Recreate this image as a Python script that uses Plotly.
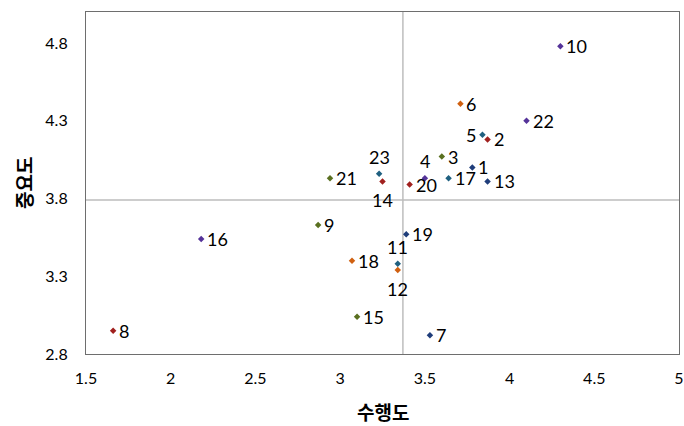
import plotly.graph_objects as go

labels = [str(i) for i in range(1, 24)]
performance = [3.78, 3.87, 3.60, 3.50, 3.84, 3.71, 3.53, 1.66, 2.87, 4.30, 3.34, 3.34,
               3.87, 3.25, 3.10, 2.18, 3.64, 3.07, 3.39, 3.41, 2.94, 4.10, 3.23]
importance = [4.00, 4.18, 4.07, 3.93, 4.21, 4.41, 2.92, 2.95, 3.63, 4.78, 3.38, 3.34,
              3.91, 3.91, 3.04, 3.54, 3.93, 3.40, 3.57, 3.89, 3.93, 4.30, 3.96]
x_ticks = [1.5, 2, 2.5, 3, 3.5, 4, 4.5, 5]
y_ticks = [2.8, 3.3, 3.8, 4.3, 4.8]

palette = ["#1F3D7A", "#A0201E", "#5A7020", "#553399", "#1F6080", "#D06010"]
colors = [palette[i % 6] for i in range(len(labels))]

label_place = {"4": "top", "23": "top", "11": "top",
               "14": "bottom", "12": "bottom", "5": "left"}

mean_x = sum(performance) / len(performance)
mean_y = sum(importance) / len(importance)

FONT = "Lato, Liberation Sans, sans-serif"

fig = go.Figure()
fig.add_trace(go.Scatter(
    x=performance, y=importance, mode="markers",
    marker=dict(symbol="diamond", size=5, color=colors),
    showlegend=False, cliponaxis=False,
))

for lab, xv, yv in zip(labels, performance, importance):
    place = label_place.get(lab, "right")
    kw = dict(x=xv, y=yv, text=lab, showarrow=False,
              font=dict(family=FONT, size=18, color="#000000"))
    if place == "right":
        kw.update(xanchor="left", yanchor="middle", xshift=4, yshift=0)
    elif place == "left":
        kw.update(xanchor="right", yanchor="middle", xshift=-4, yshift=0)
    elif place == "top":
        kw.update(xanchor="center", yanchor="middle", xshift=0, yshift=17)
    else:
        kw.update(xanchor="center", yanchor="middle", xshift=0, yshift=-19)
    fig.add_annotation(**kw)

fig.add_shape(type="line", x0=mean_x, x1=mean_x, y0=2.8, y1=5.0,
              line=dict(color="#BDBDBD", width=1.5), layer="below")
fig.add_shape(type="line", x0=1.5, x1=5.0, y0=mean_y, y1=mean_y,
              line=dict(color="#BDBDBD", width=1.5), layer="below")

fig.add_annotation(text="<b>수행도</b>", xref="paper", yref="paper", x=0.5, y=0,
                   yshift=-57, xanchor="center", yanchor="middle", showarrow=False,
                   font=dict(family="Noto Sans CJK KR", size=19, color="#000000"))
fig.add_annotation(text="<b>중요도</b>", xref="paper", yref="paper", x=0, y=0.5,
                   xshift=-63, xanchor="center", yanchor="middle", showarrow=False,
                   textangle=-90,
                   font=dict(family="Noto Sans CJK KR", size=19, color="#000000"))

fig.update_layout(
    width=684, height=426,
    margin=dict(l=86, r=5, t=12, b=72, autoexpand=False),
    plot_bgcolor="white", paper_bgcolor="white",
    font=dict(family=FONT, size=16, color="#000000"),
)
fig.update_xaxes(
    range=[1.5, 5.0], tickvals=x_ticks, ticktext=[f"{v:g}" for v in x_ticks],
    showgrid=False, zeroline=False, showline=True, mirror=True, automargin=False,
    linecolor="#6E6E6E", linewidth=1.2, ticks="", ticklabelstandoff=10,
    tickfont=dict(size=16),
)
fig.update_yaxes(
    range=[2.8, 5.0], tickvals=y_ticks, ticktext=[f"{v:g}" for v in y_ticks],
    showgrid=False, zeroline=False, showline=True, mirror=True, automargin=False,
    linecolor="#6E6E6E", linewidth=1.2, ticks="", ticklabelstandoff=14,
    tickfont=dict(size=16),
)

fig.write_html("out.html", config={"displayModeBar": False},
               post_script="document.body.style.margin='0';")
